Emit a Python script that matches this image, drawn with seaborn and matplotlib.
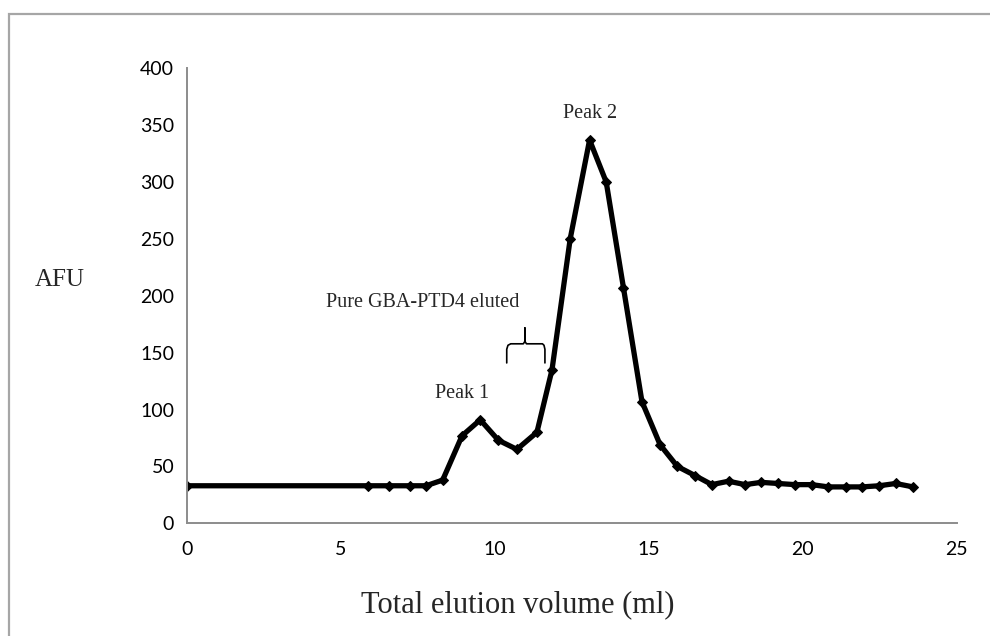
import matplotlib
matplotlib.use("Agg")
import matplotlib.pyplot as plt
from matplotlib.patches import Rectangle
import seaborn as sns
import pandas as pd

# elution profile
volume = [0, 5.9, 6.57, 7.25, 7.77, 8.31, 8.94, 9.53, 10.12, 10.72, 11.37,
          11.86, 12.45, 13.08, 13.62, 14.18, 14.78, 15.37, 15.93, 16.5, 17.05,
          17.59, 18.13, 18.65, 19.2, 19.75, 20.29, 20.83, 21.39, 21.93, 22.48,
          23.02, 23.58]
afu = [33, 33, 33, 33, 33, 38, 77, 91, 73, 65, 80,
       135, 250, 337, 300, 207, 107, 69, 50, 42, 34,
       37, 34, 36, 35, 34, 34, 32, 32, 32, 33,
       35, 32]

x_ticks = [0, 5, 10, 15, 20, 25]
y_ticks = [0, 50, 100, 150, 200, 250, 300, 350, 400]

df = pd.DataFrame({"volume": volume, "afu": afu})

sns.set_style("white")
plt.rcParams["font.family"] = ["Liberation Serif", "DejaVu Serif"]

fig = plt.figure(figsize=(9.9, 6.36), dpi=100)
ax = fig.add_axes([0.1886, 0.1772, 0.9664 - 0.1886, 0.8926 - 0.1772])

sns.lineplot(data=df, x="volume", y="afu", ax=ax, color="black", linewidth=3.8,
             marker="D", markersize=5.5, markeredgecolor="black", sort=False,
             solid_joinstyle="round", solid_capstyle="round")

ax.set_xlim(0, 25)
ax.set_ylim(0, 400)
ax.set_xticks(x_ticks)
ax.set_yticks(y_ticks)
ax.set_xlabel("")
ax.set_ylabel("")

for side in ["top", "right"]:
    ax.spines[side].set_visible(False)
for side in ["left", "bottom"]:
    ax.spines[side].set_color("#8c8c8c")
    ax.spines[side].set_linewidth(1.4)

ax.tick_params(axis="both", direction="out", length=7, width=1.4, color="#8c8c8c",
               labelsize=14, labelcolor="black")
ax.tick_params(axis="y", pad=2)
ax.tick_params(axis="x", pad=6)
for lab in ax.get_xticklabels() + ax.get_yticklabels():
    lab.set_family(["Lato", "DejaVu Sans"])

# annotations
ax.text(13.08, 360, "Peak 2", ha="center", va="center", fontsize=14.5)
ax.text(8.93, 114, "Peak 1", ha="center", va="center", fontsize=14.5)
ax.text(7.66, 194, "Pure GBA-PTD4 eluted", ha="center", va="center", fontsize=14.5)

# curly brace over the collected fractions
bx = [10.39, 10.39, 10.43, 10.52, 10.93, 10.98, 10.98, 10.98, 11.03, 11.55, 11.60, 11.63, 11.63]
by = [141, 153, 156.5, 157.8, 157.8, 160, 171.7, 160, 157.8, 157.8, 156.5, 153, 141]
ax.plot(bx, by, color="black", linewidth=1.2, solid_joinstyle="round")

fig.text(60 / 990, 1 - 280 / 636, "AFU", ha="center", va="center", fontsize=18)
fig.text(518 / 990, 1 - 605 / 636, "Total elution volume (ml)", ha="center",
         va="center", fontsize=22)

# outer chart border
fig.patches.append(Rectangle((8.7 / 990, -0.1), 1.2, 1 - 14 / 636 + 0.1,
                             transform=fig.transFigure, fill=False,
                             edgecolor="#a6a6a6", linewidth=1.6))

fig.savefig("out.png", dpi=100)
